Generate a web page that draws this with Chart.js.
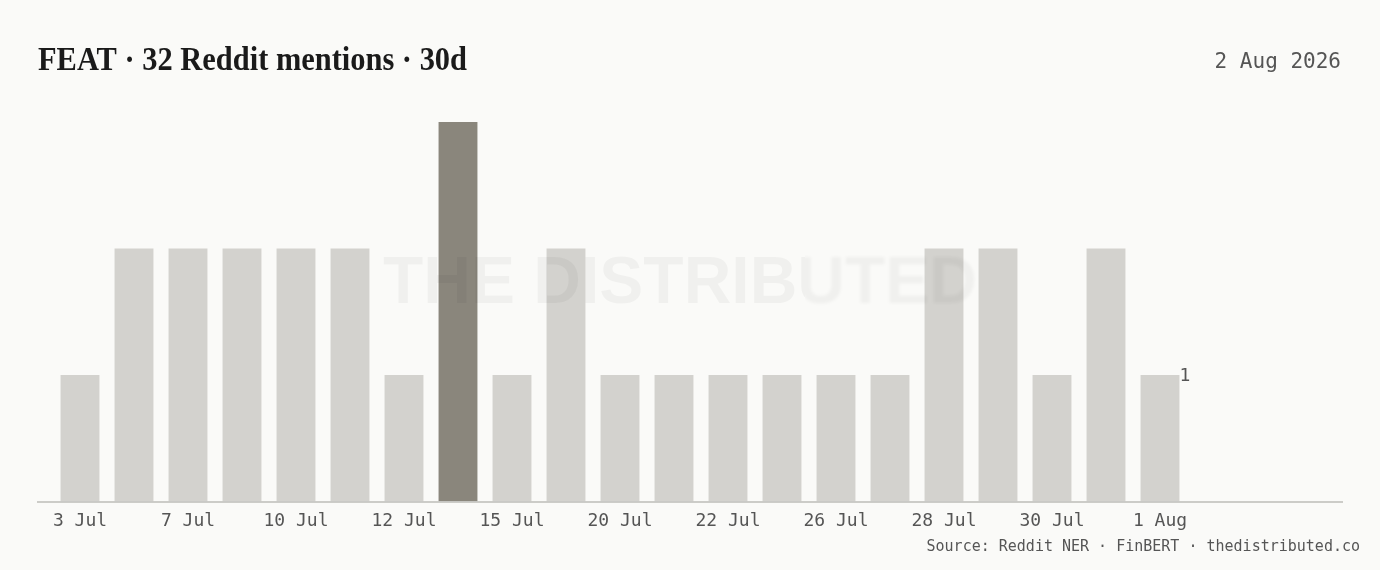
<!DOCTYPE html>
<html>
<head>
<meta charset="utf-8">
<script src="https://cdn.jsdelivr.net/npm/chart.js@4"></script>
<style>
  html, body { margin: 0; padding: 0; background: #fafaf8; }
  #wrap { width: 1380px; height: 570px; }
</style>
</head>
<body>
<div id="wrap"><canvas id="mentionsChart" width="1380" height="570"></canvas></div>
<script>
// ======================
// DATA
// ======================
const dates = ["3 Jul", "5 Jul", "7 Jul", "8 Jul", "10 Jul", "11 Jul", "12 Jul", "13 Jul",
    "15 Jul", "17 Jul", "20 Jul", "21 Jul", "22 Jul", "24 Jul", "26 Jul", "27 Jul",
    "28 Jul", "29 Jul", "30 Jul", "31 Jul", "1 Aug"];
const mentions = [1, 2, 2, 2, 2, 2, 1, 3, 1, 2, 1, 1, 1, 1, 1, 1, 2, 2, 1, 2, 1];
const titleText = "FEAT \u00b7 32 Reddit mentions \u00b7 30d";
const dateText = "2 Aug 2026";
const sourceText = "Source: Reddit NER \u00b7 FinBERT \u00b7 thedistributed.co";

const MONO = "'DejaVu Sans Mono', 'Liberation Mono', monospace";
const peak = Math.max(...mentions);
const barColors = mentions.map(v => v === peak ? "#8a867c" : "#d3d2ce");

// ======================
// DECORATION PLUGIN
// ======================
const decorations = {
    id: "decorations",
    beforeDraw(chart) {
        const ctx = chart.ctx;
        ctx.save();
        ctx.fillStyle = "#fafaf8";
        ctx.fillRect(0, 0, chart.width, chart.height);
        ctx.restore();
    },
    afterDatasetsDraw(chart) {
        const ctx = chart.ctx;
        const area = chart.chartArea;

        // baseline
        ctx.save();
        ctx.strokeStyle = "#bdbcb8";
        ctx.lineWidth = 1.5;
        ctx.beginPath();
        ctx.moveTo(37, area.bottom + 0.5);
        ctx.lineTo(1343, area.bottom + 0.5);
        ctx.stroke();
        ctx.restore();

        // watermark, right half blurred
        ctx.save();
        ctx.font = "bold 66px 'Liberation Sans', Arial, sans-serif";
        ctx.fillStyle = "rgba(0,0,0,0.04)";
        ctx.textAlign = "center";
        ctx.textBaseline = "middle";
        ctx.save();
        ctx.beginPath();
        ctx.rect(0, 0, 805, chart.height);
        ctx.clip();
        ctx.fillText("THE DISTRIBUTED", 680, 285);
        ctx.restore();
        ctx.save();
        ctx.beginPath();
        ctx.rect(805, 0, chart.width, chart.height);
        ctx.clip();
        ctx.filter = "blur(1.5px)";
        ctx.fillText("THE DISTRIBUTED", 680, 285);
        ctx.restore();
        ctx.restore();

        // last value label
        const meta = chart.getDatasetMeta(0);
        const last = meta.data[meta.data.length - 1];
        ctx.save();
        ctx.font = "18px " + MONO;
        ctx.fillStyle = "#555";
        ctx.textAlign = "left";
        ctx.textBaseline = "middle";
        ctx.fillText(String(mentions[mentions.length - 1]), last.x + last.width / 2, last.y + 1);
        ctx.restore();

        // title
        ctx.save();
        ctx.font = "bold 33px 'Liberation Serif', 'DejaVu Serif', serif";
        ctx.fillStyle = "#1a1a1a";
        ctx.textBaseline = "alphabetic";
        const w = ctx.measureText(titleText).width;
        ctx.translate(38, 70);
        ctx.scale(429 / w, 1);
        ctx.fillText(titleText, 0, 0);
        ctx.restore();

        // date
        ctx.save();
        ctx.font = "21px " + MONO;
        ctx.fillStyle = "#555";
        ctx.textAlign = "right";
        ctx.textBaseline = "middle";
        ctx.fillText(dateText, 1341, 63);
        ctx.restore();

        // source
        ctx.save();
        ctx.font = "15px " + MONO;
        ctx.fillStyle = "#555";
        ctx.textAlign = "right";
        ctx.textBaseline = "middle";
        ctx.fillText(sourceText, 1360, 547);
        ctx.restore();
    }
};

// ======================
// RENDER CHART
// ======================
const ctx = document.getElementById("mentionsChart");
new Chart(ctx, {
    type: "bar",
    data: {
        labels: dates,
        datasets: [{
            data: mentions,
            backgroundColor: barColors,
            borderWidth: 0,
            categoryPercentage: 0.8,
            barPercentage: 0.9
        }]
    },
    options: {
        responsive: false,
        animation: false,
        devicePixelRatio: 1,
        layout: { padding: { left: 53, right: 193, top: 122, bottom: 29 } },
        plugins: {
            legend: { display: false },
            tooltip: { enabled: false }
        },
        scales: {
            x: {
                grid: { display: false, drawTicks: false },
                border: { display: false },
                ticks: {
                    autoSkip: false,
                    maxRotation: 0,
                    padding: 9,
                    color: "#555",
                    font: { family: MONO, size: 18 },
                    callback: function (val, i) {
                        return i % 2 === 0 ? this.getLabelForValue(val) : "";
                    }
                }
            },
            y: {
                display: false,
                min: 0,
                max: peak
            }
        }
    },
    plugins: [decorations]
});
</script>
</body>
</html>
